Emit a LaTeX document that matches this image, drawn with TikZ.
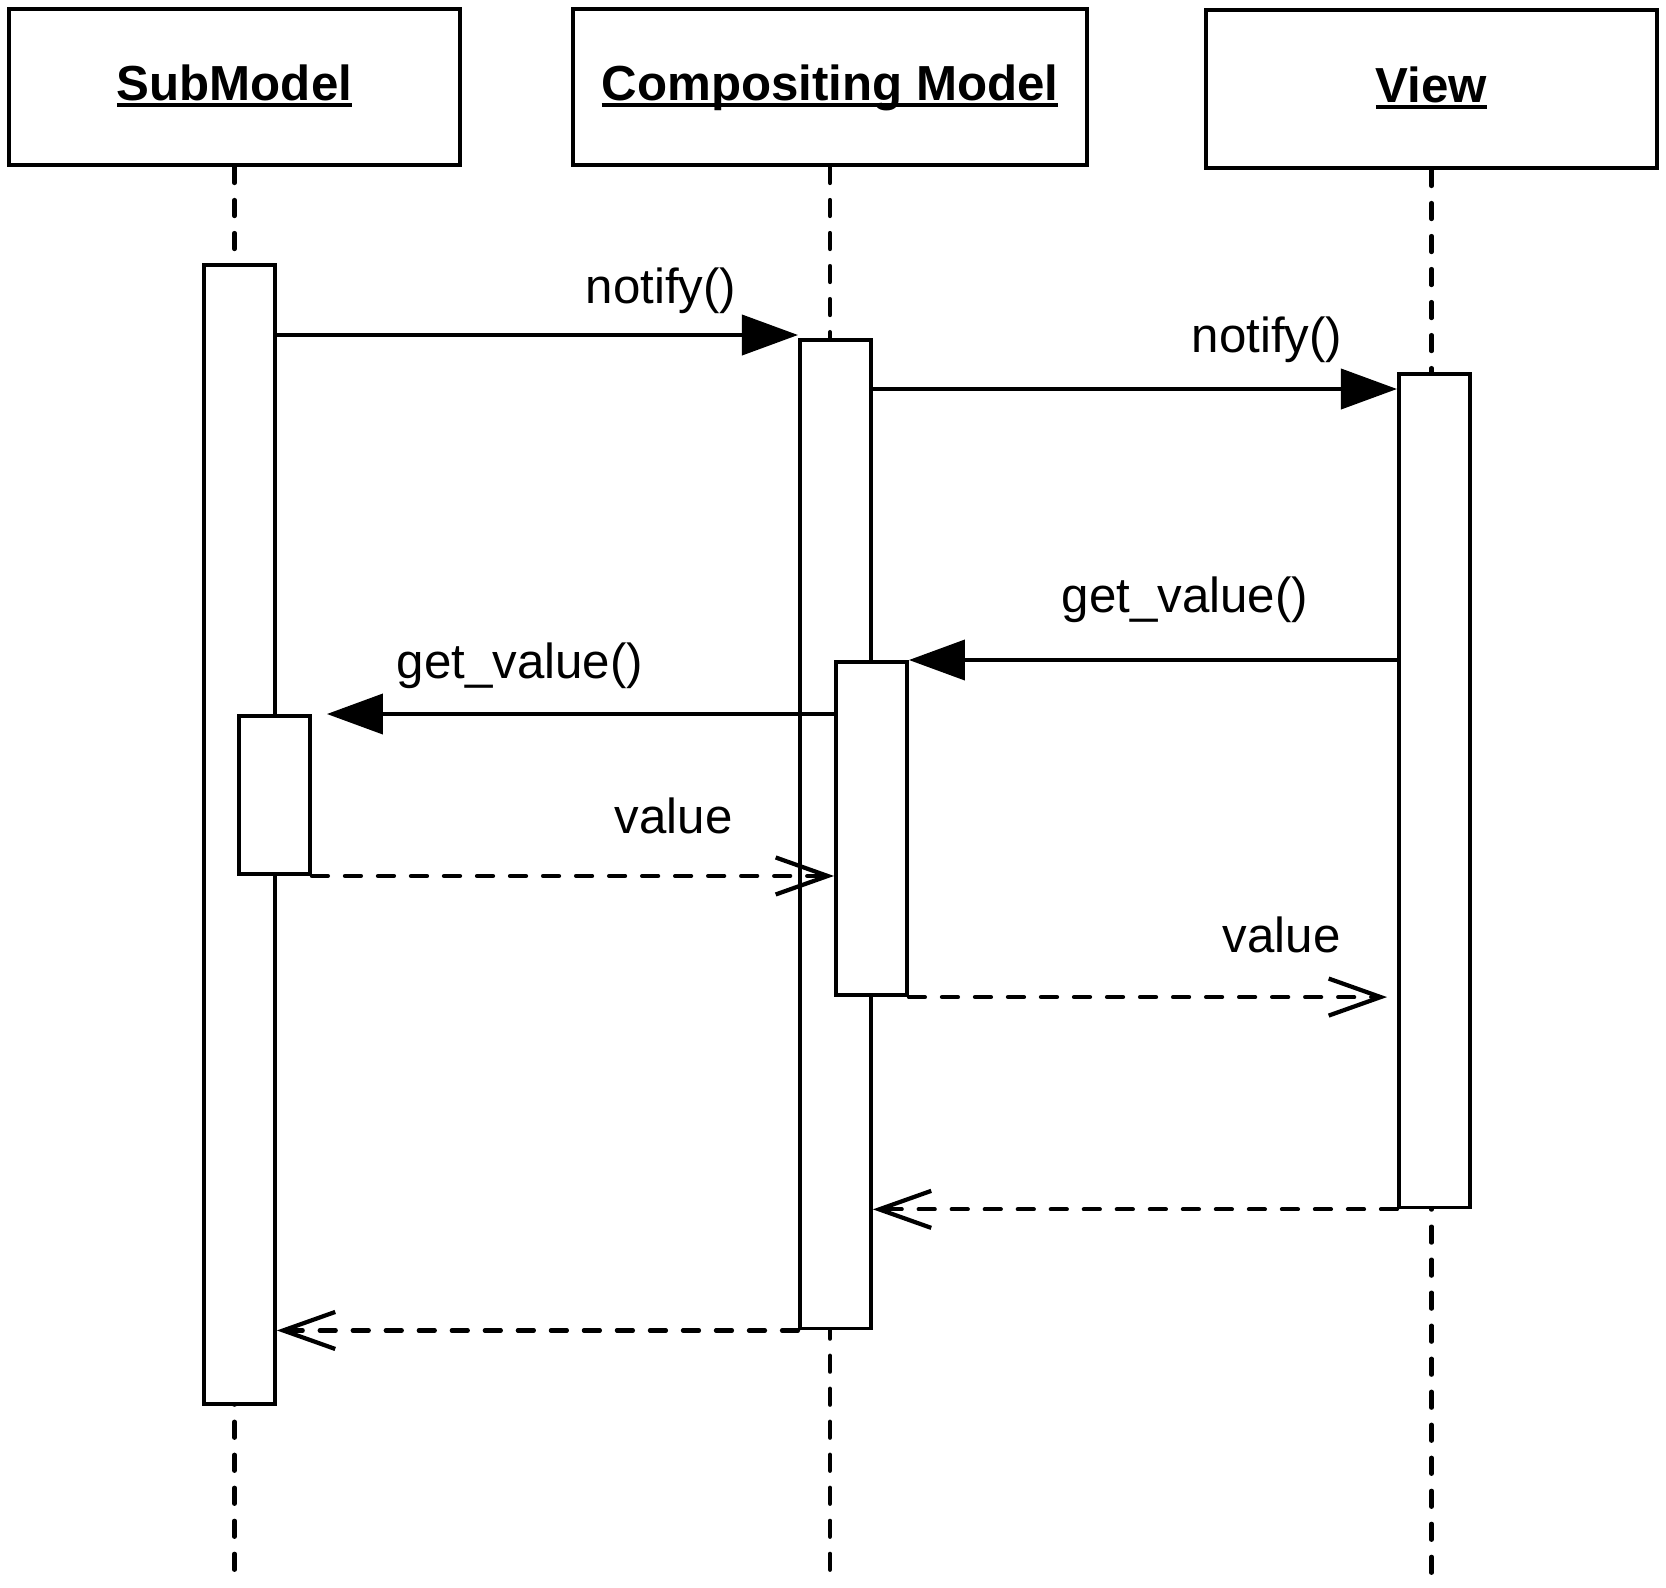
\documentclass[tikz,border=0pt]{standalone}
\usepackage{fontspec}
\setmainfont{Liberation Sans}
\usepackage{tikz}
\usetikzlibrary{arrows.meta}
\newcommand{\hname}[1]{{\setbox0\hbox{#1}\rlap{\rule[-2pt]{\wd0}{1.1pt}}\box0}}
\tikzset{
  head/.style={draw,line width=1.1pt,inner sep=0pt,minimum height=1.56cm,
    text height=10.5pt,text depth=3pt,font=\fontsize{14pt}{17pt}\selectfont\bfseries},
  act/.style={draw,fill=white,line width=1.1pt,inner sep=0pt,anchor=north west,minimum width=0.71cm},
  life/.style={line width=1.2pt,dash pattern=on 0.16cm off 0.17cm,line cap=round},
  call/.style={line width=1.1pt,-{Triangle[length=0.56cm,width=0.40cm]}},
  reply/.style={line width=1.2pt,dash pattern=on 0.16cm off 0.17cm,line cap=round,
    -{Straight Barb[length=0.52cm,width=0.37cm]}},
  lbl/.style={inner sep=0pt,anchor=base west,font=\fontsize{14pt}{17pt}\selectfont}
}
\begin{document}
\begin{tikzpicture}[x=0.01cm,y=-0.01cm]
  \useasboundingbox (0,0) rectangle (1666,1587);

  % objects
  \node[head,minimum width=4.51cm] (sub) at (234.5,87) {\hname{SubModel}};
  \node[head,minimum width=5.14cm] (comp) at (830,87) {\hname{Compositing Model}};
  \node[head,minimum width=4.51cm,minimum height=1.58cm] (view) at (1431.5,89) {\hname{View}};

  % lifelines
  \coordinate (bot) at (0,1583);
  \draw[life] (sub.south) -- (sub.south |- bot);
  \draw[life] (comp.south) -- (comp.south |- bot);
  \draw[life] (view.south) -- (view.south |- bot);

  % activations
  \node[act,minimum height=11.38cm] (subact) at (202,263) {};
  \node[act,minimum height=1.58cm] (subnest) at (237,714) {};
  \node[act,minimum height=9.88cm] (compact) at (798,338) {};
  \node[act,minimum height=3.33cm] (compnest) at (834,660) {};
  \node[act,minimum height=8.33cm] (viewact) at (1397,372) {};

  % messages
  \coordinate (m1) at (0,335);
  \coordinate (m2) at (0,389);
  \draw[call] (subact.east |- m1) -- (compact.west |- m1);
  \draw[call] (compact.east |- m2) -- (viewact.west |- m2);
  \draw[call] (viewact.west |- compnest.north) -- (compnest.north east);
  \draw[call,shorten >=0.15cm] (compnest.west |- subnest.north) -- (subnest.north east);
  \draw[reply] (subnest.south east) -- (compnest.west |- subnest.south);
  \draw[reply,shorten >=0.1cm] (compnest.south east) -- (viewact.west |- compnest.south);
  \draw[reply] (viewact.south west) -- (compact.east |- viewact.south);
  \draw[reply] (compact.south west) -- (subact.east |- compact.south);

  % labels
  \node[lbl] (l1) at (585,303) {notify()};
  \node[lbl] (l2) at (1191,352) {notify()};
  \node[lbl] (l3) at (1061,612) {get\_value()};
  \node[lbl] (l4) at (396,678) {get\_value()};
  \node[lbl] (l5) at (614,833) {value};
  \node[lbl] (l6) at (1222,952) {value};
\end{tikzpicture}
\end{document}
